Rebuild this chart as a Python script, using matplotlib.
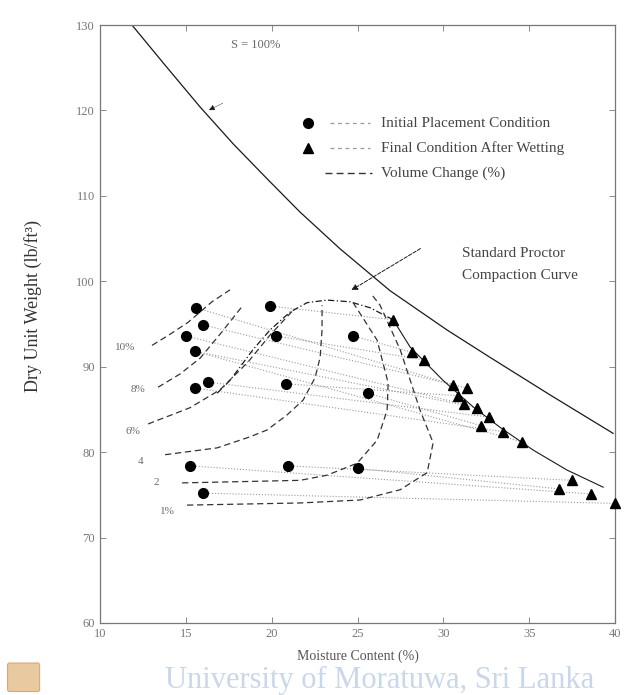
import matplotlib

matplotlib.use('Agg')
import matplotlib.pyplot as plt
from matplotlib.patches import FancyBboxPatch

plt.rcParams['font.family'] = ['Liberation Serif', 'DejaVu Serif']

# initial placement condition (circles)
INIT_W = [15.59, 16.0, 15.0, 15.53, 15.53, 16.3, 19.9, 20.25, 20.83,
          24.74, 25.6, 15.24, 20.95, 25.0, 16.0]
INIT_G = [96.9, 94.9, 93.6, 91.8, 87.5, 88.2, 97.1, 93.6, 88.0,
          93.6, 86.9, 78.4, 78.4, 78.1, 75.2]

# final condition after wetting (triangles)
FINAL_W = [27.06, 28.17, 28.87, 30.56, 31.37, 30.85, 31.2, 31.96,
           32.66, 32.19, 33.47, 34.58, 37.49, 36.73, 38.6, 40.0]
FINAL_G = [95.5, 91.7, 90.8, 87.9, 87.5, 86.6, 85.6, 85.2,
           84.1, 83.1, 82.4, 81.2, 76.7, 75.7, 75.1, 74.0]

# which initial point goes with which final point
LINKS = [(9, 1), (10, 9), (8, 5), (7, 2), (6, 0), (13, 13), (12, 12),
         (14, 15), (11, 14), (0, 3), (1, 4), (2, 6), (3, 7), (4, 10),
         (5, 8), (3, 11)]

# zero air voids line, S = 100%
ZAV_W = [11.86, 13.79, 15.83, 17.75, 19.73, 21.65, 23.98, 26.89, 30.21, 32.71, 36.21, 39.88]
ZAV_G = [130.0, 125.3, 120.4, 116.1, 112.0, 108.1, 103.8, 98.9, 94.3, 91.1, 86.7, 82.2]

# standard proctor curve (dry side + peak)
PROC_W = [16.82, 17.57, 18.91, 19.90, 21.07, 22.06, 23.22, 24.56, 25.73, 27.07]
PROC_G = [86.9, 88.4, 92.0, 94.3, 96.4, 97.5, 97.8, 97.6, 96.9, 95.5]

# line through final conditions (wet side)
WET_W = [27.07, 28.06, 29.98, 31.73, 33.30, 35.22, 37.20, 39.30]
WET_G = [95.5, 92.3, 88.4, 85.3, 82.9, 80.25, 77.9, 75.9]

# volume change contours
C10_W = [13.03, 14.08, 15.13, 16.52, 17.57]
C10_G = [92.5, 93.8, 95.2, 97.6, 99.0]
C8_W = [13.38, 14.66, 15.83, 17.11, 18.33]
C8_G = [87.6, 89.15, 91.0, 94.1, 97.2]
C6_W = [12.80, 15.24, 16.99, 18.62, 19.90, 21.24]
C6_G = [83.3, 85.2, 87.3, 90.55, 93.7, 96.6]
C4_W = [13.79, 16.82, 18.74, 19.73, 20.89, 21.83, 22.52, 22.82, 22.93, 22.93]
C4_G = [79.7, 80.5, 81.8, 82.6, 84.35, 86.1, 88.7, 91.1, 94.3, 97.2]
C2_W = [14.78, 21.65, 23.22, 24.97, 26.14, 26.72, 26.78, 26.14, 24.74]
C2_G = [76.4, 76.7, 77.3, 78.7, 81.4, 84.9, 88.1, 93.1, 97.5]
C1_W = [15.07, 21.65, 25.15, 27.48, 29.05, 29.40, 28.64, 27.48, 26.31, 25.84]
C1_G = [73.8, 74.05, 74.4, 75.6, 77.6, 81.1, 84.9, 92.0, 97.2, 98.4]

CONTOUR_LABELS = ['10%', '8%', '6%', '4', '2', '1%']
LABEL_W = [10.9, 11.8, 11.5, 12.2, 13.1, 13.5]
LABEL_G = [92.3, 87.3, 82.4, 78.9, 76.4, 73.0]

INK = '#1a1a1a'
GRAY = '#6a6a6a'

fig = plt.figure(figsize=(6.29, 6.95), dpi=100)
ax = fig.add_axes([0.159, 0.1036, 0.819, 0.8604])

# connecting dotted lines
for i, j in LINKS:
    ax.plot([INIT_W[i], FINAL_W[j]], [INIT_G[i], FINAL_G[j]], ls=':', color='#9a9a9a', lw=0.8, zorder=1)

ax.plot(ZAV_W, ZAV_G, '-', color=INK, lw=0.9)
ax.plot(PROC_W, PROC_G, color=INK, lw=0.9, ls=(0, (5, 2, 1, 2)))
ax.plot(WET_W, WET_G, '-', color=INK, lw=0.8)

for cw, cg in [(C10_W, C10_G), (C8_W, C8_G), (C6_W, C6_G), (C4_W, C4_G), (C2_W, C2_G), (C1_W, C1_G)]:
    ax.plot(cw, cg, color='#333333', lw=0.9, ls=(0, (5, 3)))

for lab, lw_, lg in zip(CONTOUR_LABELS, LABEL_W, LABEL_G):
    ax.text(lw_, lg, lab, fontsize=8, color=GRAY, ha='left', va='center')

ax.plot(INIT_W, INIT_G, 'o', color='black', ms=7, zorder=5)
ax.plot(FINAL_W, FINAL_G, '^', color='black', ms=7, zorder=5, clip_on=False)

# labels on the chart
ax.text(17.6, 127.7, 'S = 100%', fontsize=9, color=GRAY, ha='left', va='center')
ax.annotate('', xy=(16.2, 119.9), xytext=(17.3, 121.0),
            arrowprops=dict(arrowstyle='-|>', color=INK, lw=0.3, mutation_scale=9))
ax.text(31.1, 103.3, 'Standard Proctor', fontsize=11, color='#444444', ha='left', va='center')
ax.text(31.1, 100.7, 'Compaction Curve', fontsize=11, color='#444444', ha='left', va='center')
ax.annotate('', xy=(24.5, 98.8), xytext=(28.8, 104.0),
            arrowprops=dict(arrowstyle='-|>', color=INK, lw=0.7, ls='--', mutation_scale=9))

# legend drawn by hand
tr = ax.transAxes
ax.plot([0.404], [0.836], 'o', color='black', ms=7, transform=tr)
ax.plot([0.447, 0.524], [0.836, 0.836], ls=(0, (3, 3)), color='#999999', lw=0.9, transform=tr)
ax.text(0.546, 0.836, 'Initial Placement Condition', fontsize=11, color='#444444', va='center', transform=tr)
ax.plot([0.404], [0.794], '^', color='black', ms=7, transform=tr)
ax.plot([0.447, 0.524], [0.794, 0.794], ls=(0, (3, 3)), color='#999999', lw=0.9, transform=tr)
ax.text(0.546, 0.794, 'Final Condition After Wetting', fontsize=11, color='#444444', va='center', transform=tr)
ax.plot([0.437, 0.528], [0.752, 0.752], ls=(0, (5, 3)), color='#333333', lw=1.0, transform=tr)
ax.text(0.546, 0.752, 'Volume Change (%)', fontsize=11, color='#444444', va='center', transform=tr)

ax.set_xlim(10, 40)
ax.set_ylim(60, 130)
ax.set_xticks([10, 15, 20, 25, 30, 35, 40])
ax.set_yticks([60, 70, 80, 90, 100, 110, 120, 130])
ax.tick_params(direction='in', top=True, right=True, length=4, width=0.6,
               labelsize=9, labelcolor='#777777', colors='#777777')
for s in ax.spines.values():
    s.set_color('#777777')
    s.set_linewidth(0.9)

ax.set_ylabel('Dry Unit Weight (lb/ft³)', fontsize=13, color='#333333')
ax.yaxis.set_label_coords(-0.113, 0.53)
ax.set_xlabel('Moisture Content (%)', fontsize=10, color='#555555')
ax.xaxis.set_label_coords(0.5, -0.045)

# watermark and emblem at the bottom
fig.text(0.262, 0.01, 'University of Moratuwa, Sri Lanka', fontsize=22,
         color='#c9d7ea', ha='left', va='baseline')
fig.patches.append(FancyBboxPatch((0.015, 0.008), 0.045, 0.035, boxstyle='round,pad=0.003',
                                  transform=fig.transFigure, fc='#e8c9a0', ec='#d8a878', lw=0.8))

fig.savefig('out.png', dpi=100)
